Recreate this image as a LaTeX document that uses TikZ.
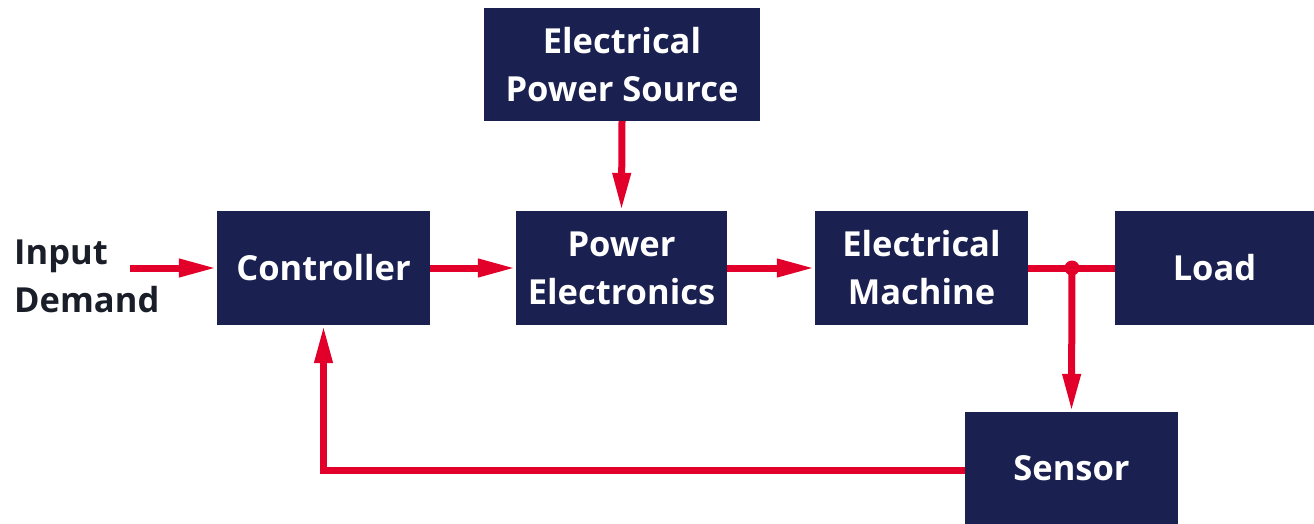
\documentclass[tikz,border=0pt]{standalone}
\usepackage{fontspec}
\setmainfont{Open Sans}
\usetikzlibrary{arrows.meta}
\definecolor{navy}{HTML}{1A2050}
\definecolor{flowred}{HTML}{E2002B}
\definecolor{inktext}{HTML}{1A1E28}
\tikzset{
  blk/.style={fill=navy, draw=none, text=white, inner sep=0pt, align=center,
    font=\bfseries\fontsize{34.5}{48}\selectfont},
  flow/.style={draw=flowred, line width=7pt, -{Triangle[length=38pt,width=17pt]}},
  link/.style={draw=flowred, line width=7pt}
}
\begin{document}
\begin{tikzpicture}[x=1pt,y=-1pt]
\useasboundingbox (0,0) rectangle (1314,524);
\node[blk, minimum width=276pt, minimum height=113pt] (src) at (622,64.5) {Electrical\\Power Source};
\node[blk, minimum width=213pt, minimum height=114pt] (ctrl) at (323.5,268) {Controller};
\node[blk, minimum width=211pt, minimum height=114pt] (pe) at (621.5,268) {Power\\Electronics};
\node[blk, minimum width=213pt, minimum height=114pt] (em) at (921.5,268) {Electrical\\Machine};
\node[blk, minimum width=199pt, minimum height=114pt] (load) at (1214.5,268) {Load};
\node[blk, minimum width=213pt, minimum height=112pt] (sens) at (1071.5,468) {Sensor};
\node[anchor=west, align=left, inner sep=0pt, text=inktext,
  font=\bfseries\fontsize{34.5}{48}\selectfont] (inp) at (14,276) {Input\\Demand};
\coordinate (instart) at (130,268);
\coordinate (junc) at (1072,268);
\coordinate (sensout) at (sens.west |- 0,470);
\draw[flow] (instart) -- (ctrl.west);
\draw[flow] (ctrl.east) -- (pe.west);
\draw[flow] (pe.east) -- (em.west);
\draw[flow] (src.south) -- (pe.north);
\draw[link] (em.east) -- (load.west);
\fill[flowred] (junc) circle (7.5pt);
\draw[flow] (junc) -- (sens.north);
\draw[flow] (sensout) -| (ctrl.south);
\end{tikzpicture}
\end{document}
